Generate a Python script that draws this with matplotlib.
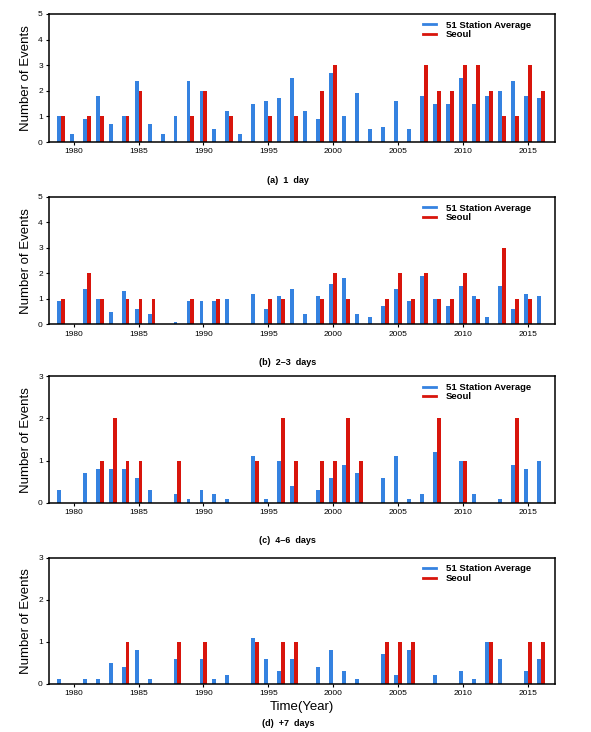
"""Eventos por ano: média de 51 estações vs Seoul, 4 classes de duração."""

import matplotlib
matplotlib.use("Agg")
import matplotlib.pyplot as plt
from matplotlib.lines import Line2D
import numpy as np

YEARS = np.arange(1979, 2017)

# (a) 1 day
A_AVG = [1.0, 0.3, 0.9, 1.8, 0.7, 1.0, 2.4, 0.7, 0.3, 1.0,
         2.4, 2.0, 0.5, 1.2, 0.3, 1.5, 1.6, 1.7, 2.5, 1.2,
         0.9, 2.7, 1.0, 1.9, 0.5, 0.6, 1.6, 0.5, 1.8, 1.5,
         1.5, 2.5, 1.5, 1.8, 2.0, 2.4, 1.8, 1.7]
A_SEOUL = [1, 0, 1, 1, 0, 1, 2, 0, 0, 0,
           1, 2, 0, 1, 0, 0, 1, 0, 1, 0,
           2, 3, 0, 0, 0, 0, 0, 0, 3, 2,
           2, 3, 3, 2, 1, 1, 3, 2]

# (b) 2-3 days
B_AVG = [0.9, 0.0, 1.4, 1.0, 0.5, 1.3, 0.6, 0.4, 0.0, 0.1,
         0.9, 0.9, 0.9, 1.0, 0.0, 1.2, 0.6, 1.1, 1.4, 0.4,
         1.1, 1.6, 1.8, 0.4, 0.3, 0.7, 1.4, 0.9, 1.9, 1.0,
         0.7, 1.5, 1.1, 0.3, 1.5, 0.6, 1.2, 1.1]
B_SEOUL = [1, 0, 2, 1, 0, 1, 1, 1, 0, 0,
           1, 0, 1, 0, 0, 0, 1, 1, 0, 0,
           1, 2, 1, 0, 0, 1, 2, 1, 2, 1,
           1, 2, 1, 0, 3, 1, 1, 0]

# (c) 4-6 days
C_AVG = [0.3, 0.0, 0.7, 0.8, 0.8, 0.8, 0.6, 0.3, 0.0, 0.2,
         0.1, 0.3, 0.2, 0.1, 0.0, 1.1, 0.1, 1.0, 0.4, 0.0,
         0.3, 0.6, 0.9, 0.7, 0.0, 0.6, 1.1, 0.1, 0.2, 1.2,
         0.0, 1.0, 0.2, 0.0, 0.1, 0.9, 0.8, 1.0]
C_SEOUL = [0, 0, 0, 1, 2, 1, 1, 0, 0, 1,
           0, 0, 0, 0, 0, 1, 0, 2, 1, 0,
           1, 1, 2, 1, 0, 0, 0, 0, 0, 2,
           0, 1, 0, 0, 0, 2, 0, 0]

# (d) +7 days
D_AVG = [0.1, 0.0, 0.1, 0.1, 0.5, 0.4, 0.8, 0.1, 0.0, 0.6,
         0.0, 0.6, 0.1, 0.2, 0.0, 1.1, 0.6, 0.3, 0.6, 0.0,
         0.4, 0.8, 0.3, 0.1, 0.0, 0.7, 0.2, 0.8, 0.0, 0.2,
         0.0, 0.3, 0.1, 1.0, 0.6, 0.0, 0.3, 0.6]
D_SEOUL = [0, 0, 0, 0, 0, 1, 0, 0, 0, 1,
           0, 1, 0, 0, 0, 1, 0, 1, 1, 0,
           0, 0, 0, 0, 0, 1, 1, 1, 0, 0,
           0, 0, 0, 1, 0, 0, 1, 1]

PANELS = [
    ("(a)  1  day", A_AVG, A_SEOUL, 5),
    ("(b)  2–3  days", B_AVG, B_SEOUL, 5),
    ("(c)  4–6  days", C_AVG, C_SEOUL, 3),
    ("(d)  +7  days", D_AVG, D_SEOUL, 3),
]

BLUE = "#3582e0"
RED = "#d8150c"

# posições (fração da figura): [left, bottom, width, height]
AX_POS = [
    [0.083, 0.806, 0.856, 0.175],
    [0.083, 0.557, 0.856, 0.174],
    [0.083, 0.313, 0.856, 0.173],
    [0.083, 0.066, 0.856, 0.172],
]
CAPTION_Y = [0.753, 0.505, 0.261, 0.012]

plt.rcParams["font.family"] = ["Liberation Sans", "DejaVu Sans"]

fig = plt.figure(figsize=(5.91, 7.32), dpi=100)
w = 0.3

for (caption, avg, seoul, ymax), pos, cy in zip(PANELS, AX_POS, CAPTION_Y):
    ax = fig.add_axes(pos)
    ax.bar(YEARS - w / 2, avg, width=w, color=BLUE, linewidth=0)
    ax.bar(YEARS + w / 2, seoul, width=w, color=RED, linewidth=0)

    ax.set_xlim(1978.1, 2017.1)
    ax.set_ylim(0, ymax)
    ax.set_xticks([1980, 1985, 1990, 1995, 2000, 2005, 2010, 2015])
    ax.set_yticks(range(ymax + 1))
    ax.tick_params(axis="both", direction="out", length=2.5, width=0.8,
                   labelsize=6, pad=2)
    for sp in ax.spines.values():
        sp.set_linewidth(1.1)
    ax.set_ylabel("Number of Events", fontsize=9.5, labelpad=4)

    handles = [Line2D([], [], color=BLUE, lw=2),
               Line2D([], [], color=RED, lw=2)]
    ax.legend(handles, ["51 Station Average", "Seoul"], loc="upper right",
              bbox_to_anchor=(0.965, 1.0), frameon=False,
              handlelength=1.4, handletextpad=1.0, labelspacing=0.05,
              borderaxespad=0.3, prop={"weight": "bold", "size": 6.8})

    fig.text(0.487, cy, caption, ha="center", va="center",
             fontsize=6.5, fontweight="bold")

fig.text(0.51, 0.034, "Time(Year)", ha="center", va="center", fontsize=9.5)

fig.savefig("out.png", dpi=100)
